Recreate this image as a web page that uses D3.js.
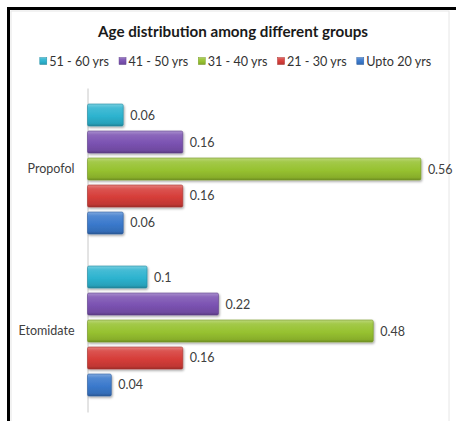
<!DOCTYPE html>
<html>
<head>
<meta charset="utf-8">
<script src="https://cdn.jsdelivr.net/npm/d3@7"></script>
<style>
  html, body { margin: 0; padding: 0; background: #ffffff; }
  svg { display: block; font-family: Lato, "Open Sans", sans-serif; }
</style>
</head>
<body>
<svg id="chart" width="456" height="421"></svg>
<script>
// Age-group shares per anaesthetic induction agent
const categories = ["Propofol", "Etomidate"];
const seriesNames = ["51 - 60 yrs", "41 - 50 yrs", "31 - 40 yrs", "21 - 30 yrs", "Upto 20 yrs"];
const propofolValues = [0.06, 0.16, 0.56, 0.16, 0.06];
const etomidateValues = [0.1, 0.22, 0.48, 0.16, 0.04];
const seriesColors = ["#2db3cf", "#7b52b2", "#97c230", "#d63d39", "#3a79cc"];

const valuesByCategory = { "Propofol": propofolValues, "Etomidate": etomidateValues };

const svg = d3.select("#chart");

// outer frame and chart-area border
svg.append("rect").attr("x", 8.5).attr("y", 8.5).attr("width", 470).attr("height", 430)
  .attr("fill", "#ffffff").attr("stroke", "#000000").attr("stroke-width", 3);
svg.append("rect").attr("x", 11).attr("y", 11).attr("width", 438).attr("height", 420)
  .attr("fill", "none").attr("stroke", "#e6e6e6").attr("stroke-width", 1);

const defs = svg.append("defs");
const shadow = defs.append("filter").attr("id", "barShadow")
  .attr("x", "-10%").attr("y", "-20%").attr("width", "130%").attr("height", "160%");
shadow.append("feDropShadow").attr("dx", 1).attr("dy", 1.5).attr("stdDeviation", 1.2)
  .attr("flood-color", "#000").attr("flood-opacity", 0.35);

seriesColors.forEach((c, i) => {
  const base = d3.color(c);
  const g = defs.append("linearGradient").attr("id", "grad" + i)
    .attr("x1", 0).attr("y1", 0).attr("x2", 0).attr("y2", 1);
  g.append("stop").attr("offset", "0%").attr("stop-color", d3.interpolateRgb(c, "#ffffff")(0.35));
  g.append("stop").attr("offset", "18%").attr("stop-color", d3.interpolateRgb(c, "#ffffff")(0.12));
  g.append("stop").attr("offset", "55%").attr("stop-color", c);
  g.append("stop").attr("offset", "88%").attr("stop-color", base.darker(0.3).formatHex());
  g.append("stop").attr("offset", "100%").attr("stop-color", base.darker(0.9).formatHex());
});

// scales
const x = d3.scaleLinear().domain([0, 0.6]).range([87.5, 444.7]);
const y = d3.scaleBand().domain(categories).range([88, 412]);
const yInner = d3.scaleBand().domain(seriesNames).range([16, 146]).paddingInner(0.185);

// title
svg.append("text").attr("x", 233).attr("y", 37).attr("text-anchor", "middle")
  .attr("font-size", 15.2).attr("font-weight", "bold").attr("fill", "#1a1a1a")
  .text("Age distribution among different groups");

// legend
const legend = svg.append("g").attr("class", "legend");
let lx = 0;
seriesNames.forEach((name, i) => {
  const item = legend.append("g").attr("transform", `translate(${lx},0)`);
  item.append("rect").attr("x", 0).attr("y", -4.5).attr("width", 7).attr("height", 7)
    .attr("fill", `url(#grad${i})`).attr("stroke", d3.color(seriesColors[i]).darker(0.6)).attr("stroke-width", 0.5);
  const t = item.append("text").attr("x", 9.5).attr("y", 4).attr("font-size", 12.6)
    .attr("fill", "#333").text(name);
  lx += 9.5 + t.node().getComputedTextLength() + 10;
});
legend.attr("transform", `translate(${235.5 - (lx - 10) / 2},62)`);

// category axis
const axis = svg.append("g").attr("transform", `translate(${x(0)},0)`)
  .call(d3.axisLeft(y).tickSize(0).tickPadding(13));
axis.select(".domain").attr("stroke", "#c8c8c8");
axis.selectAll(".tick text").attr("font-size", 12.5).attr("fill", "#404040")
  .attr("font-family", "Lato, 'Open Sans', sans-serif");

// bars and value labels
categories.forEach(cat => {
  const grp = svg.append("g").attr("transform", `translate(0,${y(cat)})`);
  const rows = seriesNames.map((s, i) => ({ s, i, v: valuesByCategory[cat][i] }));
  grp.selectAll("rect.bar").data(rows).join("rect").attr("class", "bar")
    .attr("x", x(0)).attr("y", d => yInner(d.s))
    .attr("width", d => x(d.v) - x(0)).attr("height", yInner.bandwidth())
    .attr("rx", 1.5)
    .attr("fill", d => `url(#grad${d.i})`)
    .attr("stroke", d => d3.color(seriesColors[d.i]).darker(0.7))
    .attr("stroke-width", 0.6)
    .attr("filter", "url(#barShadow)");
  grp.selectAll("text.val").data(rows).join("text").attr("class", "val")
    .attr("x", d => x(d.v) + 7).attr("y", d => yInner(d.s) + yInner.bandwidth() / 2 + 4.5)
    .attr("font-size", 12.5).attr("fill", "#404040")
    .text(d => String(d.v));
});
</script>
</body>
</html>
